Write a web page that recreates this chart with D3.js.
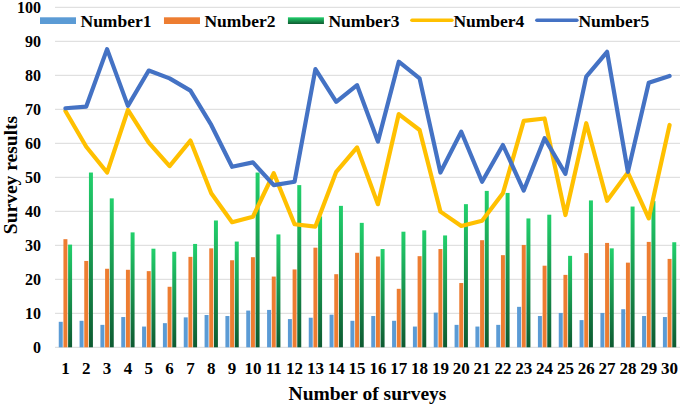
<!DOCTYPE html>
<html>
<head>
<meta charset="utf-8">
<script src="https://cdn.jsdelivr.net/npm/d3@7"></script>
<style>
	body { margin: 0; background: #fff; }
	text { font-family: "Times New Roman", "Liberation Serif", serif; font-weight: bold; fill: #000; }
</style>
</head>
<body>
<div id="chart"></div>
<script>
// categories (survey number)
var surveys = d3.range(1, 31).map(String);
var seriesNames = ["Number1", "Number2", "Number3", "Number4", "Number5"];
// bar series
var number1 = [7.5, 7.8, 6.6, 8.9, 6.1, 7.1, 8.8, 9.5, 9.2, 10.8, 11, 8.3, 8.7, 9.6, 7.8, 9.2, 7.8, 6.1, 10.2, 6.6, 6.1, 6.6, 11.9, 9.2, 10.1, 8, 10.1, 11.2, 9.2, 8.9];
var number2 = [31.8, 25.4, 23.1, 22.8, 22.4, 17.8, 26.6, 29.1, 25.6, 26.5, 20.8, 22.9, 29.3, 21.5, 27.8, 26.7, 17.2, 26.8, 28.9, 18.9, 31.5, 27.1, 30.1, 24, 21.3, 27.7, 30.7, 24.9, 31, 26];
var number3 = [30.2, 51.4, 43.8, 33.8, 29, 28.1, 30.4, 37.3, 31.1, 51.4, 33.2, 47.7, 38.5, 41.6, 36.6, 28.9, 34, 34.4, 32.9, 42.1, 46, 45.4, 37.9, 39, 26.9, 43.2, 29.1, 41.4, 43, 30.9];
// line series
var number4 = [69.5, 59, 51.4, 69.8, 60.2, 53.3, 60.8, 45.3, 36.8, 38.4, 51.2, 36.2, 35.5, 51.6, 58.8, 42.1, 68.6, 63.9, 39.9, 35.7, 37.2, 45.3, 66.6, 67.3, 38.9, 65.9, 43.1, 51.4, 37.9, 65.4];
var number5 = [70.3, 70.8, 87.7, 71, 81.4, 79.1, 75.5, 65.4, 53.1, 54.4, 47.7, 48.7, 81.8, 72.2, 77.1, 60.5, 84, 79.1, 51.4, 63.4, 48.7, 59.5, 46.1, 61.5, 51, 79.6, 86.9, 51.6, 77.8, 79.8];
var yTicks = [0, 10, 20, 30, 40, 50, 60, 70, 80, 90, 100];

(function() {
	var width = 685;
	var height = 405;
	var margin = {top: 7.3, right: 5, bottom: 57.7, left: 55};
	var innerW = width - margin.left - margin.right;
	var innerH = height - margin.top - margin.bottom;

	var svg = d3.select("#chart")
		.append("svg")
		.attr("width", width)
		.attr("height", height);

	// gradient for the green bars
	var grad = svg.append("defs").append("linearGradient")
		.attr("id", "greenGrad")
		.attr("x1", 0).attr("y1", 0).attr("x2", 0).attr("y2", 1);
	grad.append("stop").attr("offset", "0%").attr("stop-color", "#22d06c");
	grad.append("stop").attr("offset", "100%").attr("stop-color", "#0e5a31");

	var colors = ["#5b9bd5", "#ed7d31", "url(#greenGrad)", "#ffc000", "#4472c4"];

	var g = svg.append("g")
		.attr("transform", "translate(" + margin.left + "," + margin.top + ")");

	var x0 = d3.scaleBand()
		.domain(surveys)
		.range([0, innerW])
		.paddingInner(0.36)
		.paddingOuter(0.18);
	var x1 = d3.scaleBand()
		.domain([0, 1, 2])
		.range([0, x0.bandwidth()])
		.paddingInner(0.15);
	var y = d3.scaleLinear()
		.domain([0, 100])
		.range([innerH, 0]);

	// gridlines
	g.append("g").selectAll("line")
		.data(yTicks)
		.enter()
		.append("line")
		.attr("x1", 0)
		.attr("x2", innerW)
		.attr("y1", function(d) { return y(d); })
		.attr("y2", function(d) { return y(d); })
		.attr("stroke", "#d9d9d9")
		.attr("stroke-width", 1);

	// y axis labels
	var yAxis = g.append("g")
		.call(d3.axisLeft(y).tickValues(yTicks).tickSize(0).tickPadding(14));
	yAxis.select(".domain").remove();
	yAxis.selectAll("text")
		.style("font-size", "16px")
		.style("font-family", "'Times New Roman', 'Liberation Serif', serif")
		.style("font-weight", "bold")
		.attr("fill", "#000");

	// x axis labels
	var xAxis = g.append("g")
		.attr("transform", "translate(0," + innerH + ")")
		.call(d3.axisBottom(x0).tickSize(0).tickPadding(14.6));
	xAxis.select(".domain").remove();
	xAxis.selectAll("text")
		.style("font-size", "17px")
		.style("font-family", "'Times New Roman', 'Liberation Serif', serif")
		.style("font-weight", "bold")
		.attr("fill", "#000");

	// bars
	var barSeries = [number1, number2, number3];
	var groups = g.append("g").selectAll("g")
		.data(surveys)
		.enter()
		.append("g")
		.attr("transform", function(d) { return "translate(" + x0(d) + ",0)"; });
	groups.selectAll("rect")
		.data(function(d, i) {
			return barSeries.map(function(s, k) { return {k: k, v: s[i]}; });
		})
		.enter()
		.append("rect")
		.attr("x", function(d) { return x1(d.k); })
		.attr("width", x1.bandwidth())
		.attr("y", function(d) { return y(d.v); })
		.attr("height", function(d) { return innerH - y(d.v); })
		.attr("fill", function(d) { return colors[d.k]; });

	// lines
	var line = d3.line()
		.x(function(d, i) { return x0(surveys[i]) + x0.bandwidth() / 2; })
		.y(function(d) { return y(d); });
	[number4, number5].forEach(function(s, k) {
		g.append("path")
			.datum(s)
			.attr("d", line)
			.attr("fill", "none")
			.attr("stroke", colors[3 + k])
			.attr("stroke-width", 4.2)
			.attr("stroke-linejoin", "round")
			.attr("stroke-linecap", "round");
	});

	// legend
	var legend = svg.append("g").attr("transform", "translate(40,0)");
	var lx = 0;
	seriesNames.forEach(function(name, i) {
		var isBar = i < 3;
		var sw = isBar ? 36 : 40;
		if (isBar) {
			legend.append("rect")
				.attr("x", lx).attr("y", 17.3)
				.attr("width", sw).attr("height", 6.7)
				.attr("fill", colors[i]);
		} else {
			legend.append("line")
				.attr("x1", lx).attr("x2", lx + sw)
				.attr("y1", 20.3).attr("y2", 20.3)
				.attr("stroke", colors[i])
				.attr("stroke-width", 3.5)
				.attr("stroke-linecap", "round");
		}
		lx += sw + (isBar ? 4.5 : 1.5);
		var t = legend.append("text")
			.attr("x", lx).attr("y", 26.7)
			.style("font-size", "17.5px")
			.text(name);
		lx += t.node().getComputedTextLength() + 12.5;
	});

	// axis titles
	svg.append("text")
		.attr("x", margin.left + innerW / 2)
		.attr("y", 400)
		.attr("text-anchor", "middle")
		.style("font-size", "19.5px")
		.text("Number of surveys");
	svg.append("text")
		.attr("transform", "translate(17,175) rotate(-90)")
		.attr("text-anchor", "middle")
		.style("font-size", "19.5px")
		.text("Survey results");
})();
</script>
</body>
</html>
